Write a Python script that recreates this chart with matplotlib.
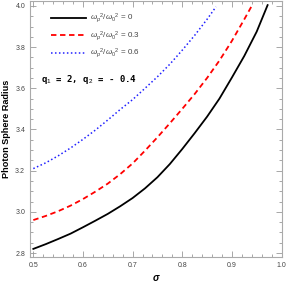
import matplotlib
matplotlib.use("Agg")
import matplotlib.pyplot as plt
from matplotlib.ticker import MultipleLocator

# data
sigma_0 = [0.500, 0.525, 0.550, 0.575, 0.600, 0.625, 0.650, 0.675, 0.700, 0.725,
           0.750, 0.775, 0.800, 0.825, 0.850, 0.875, 0.900, 0.925, 0.950, 0.972]
r_0 = [2.820, 2.843, 2.868, 2.894, 2.925, 2.957, 2.990, 3.027, 3.067, 3.114,
       3.168, 3.232, 3.305, 3.382, 3.462, 3.550, 3.652, 3.757, 3.875, 4.004]

sigma_03 = [0.500, 0.525, 0.550, 0.575, 0.600, 0.625, 0.650, 0.675, 0.700, 0.725,
            0.750, 0.775, 0.800, 0.825, 0.850, 0.875, 0.900, 0.925, 0.940]
r_03 = [2.960, 2.980, 3.003, 3.030, 3.062, 3.098, 3.137, 3.183, 3.235, 3.297,
        3.362, 3.430, 3.500, 3.572, 3.650, 3.735, 3.830, 3.935, 4.000]

sigma_06 = [0.500, 0.525, 0.550, 0.575, 0.600, 0.625, 0.650, 0.675, 0.700, 0.725,
            0.750, 0.775, 0.800, 0.825, 0.850, 0.868]
r_06 = [3.210, 3.238, 3.272, 3.310, 3.352, 3.397, 3.446, 3.497, 3.545, 3.600,
        3.656, 3.717, 3.785, 3.857, 3.935, 3.996]

labels = [r"$\omega_p{}^2/\omega_0{}^2$ = 0",
          r"$\omega_p{}^2/\omega_0{}^2$ = 0.3",
          r"$\omega_p{}^2/\omega_0{}^2$ = 0.6"]

plt.rcParams['font.family'] = ['Liberation Sans', 'DejaVu Sans']
plt.rcParams['mathtext.fontset'] = 'custom'
plt.rcParams['mathtext.rm'] = 'Liberation Sans'
plt.rcParams['mathtext.it'] = 'Liberation Sans:italic'

fig = plt.figure(figsize=(2.88, 2.85), dpi=100)
ax = fig.add_axes([30/288, 1-257/285, 252/288, 256/285])

ax.plot(sigma_0, r_0, color='black', lw=1.3, ls='-', label=labels[0])
ax.plot(sigma_03, r_03, color='#ff0000', lw=1.3, ls=(0, (3, 2)), label=labels[1])
ax.plot(sigma_06, r_06, color='#2020ff', lw=1.1, ls=(0, (1, 1.6)), label=labels[2])

ax.set_xlim(0.4933, 1.001)
ax.set_ylim(2.7806, 4.024)
ax.xaxis.set_major_locator(MultipleLocator(0.1))
ax.xaxis.set_minor_locator(MultipleLocator(0.02))
ax.yaxis.set_major_locator(MultipleLocator(0.2))
ax.yaxis.set_minor_locator(MultipleLocator(0.05))
ax.xaxis.set_major_formatter(matplotlib.ticker.FormatStrFormatter('%.1f'))
ax.yaxis.set_major_formatter(matplotlib.ticker.FormatStrFormatter('%.1f'))
ax.tick_params(which='both', direction='in', top=True, right=True, color='#999999',
               labelsize=5, labelcolor='#444444', width=0.6)
ax.tick_params(which='major', length=4)
ax.tick_params(which='minor', length=2)
for s in ax.spines.values():
    s.set_color('#aaaaaa')
    s.set_linewidth(0.8)

ax.set_ylabel('Photon Sphere Radius', fontsize=6.6, fontweight='bold', labelpad=3)
ax.set_xlabel('σ', fontsize=7, fontweight='bold', fontstyle='italic', labelpad=3)

leg = ax.legend(loc='upper left', bbox_to_anchor=(0.055, 0.985), frameon=False,
                fontsize=5.8, handlelength=4.3, handletextpad=0.5, labelspacing=0.54,
                labelcolor='#444444')

ax.text(0.045, 0.695, r"q$_1$ = 2, q$_2$ = - 0.4", transform=ax.transAxes,
        fontsize=6.5, fontweight='bold', family='DejaVu Sans Mono', va='center')

fig.savefig('out.png', dpi=100)
